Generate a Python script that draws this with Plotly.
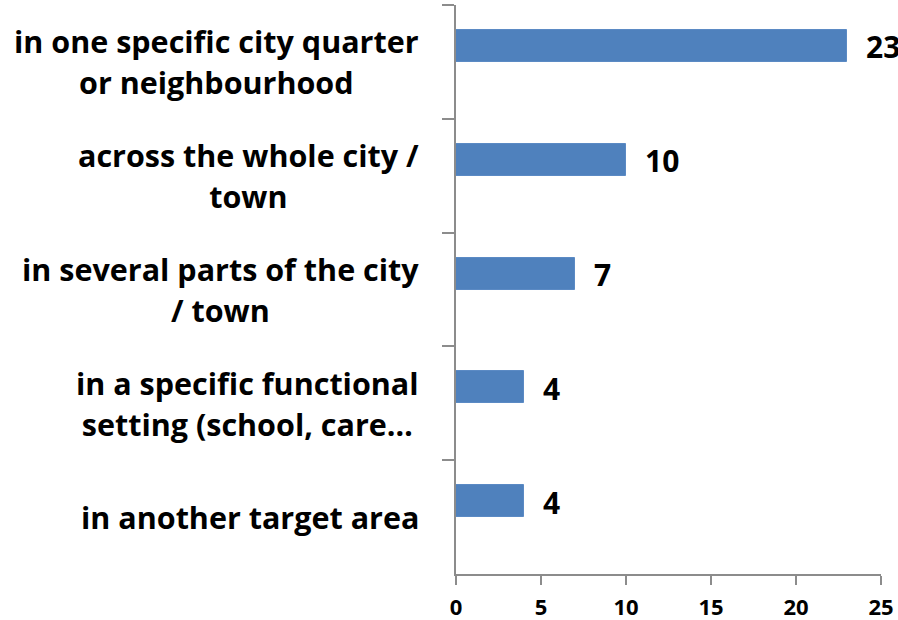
import plotly.graph_objects as go

categories = [
    "in one specific city quarter<br>or neighbourhood",
    "across the whole city /<br>town",
    "in several parts of the city<br>/ town",
    "in a specific functional<br>setting (school, care…",
    "in another target area",
]
values = [23, 10, 7, 4, 4]
x_ticks = [0, 5, 10, 15, 20, 25]

BAR = "#4F81BD"
AXIS = "#8C8C8C"
FONT = "Open Sans"

fig = go.Figure()
fig.add_trace(go.Bar(
    y=categories,
    x=values,
    orientation="h",
    width=0.28,
    offset=-0.28,
    marker=dict(color=BAR, line=dict(color="#5B8AC4", width=1)),
    hoverinfo="skip",
))

# value labels
for c, v in zip(categories, values):
    fig.add_annotation(
        x=v, y=c, xref="x", yref="y", text=f"<b>{v}</b>",
        showarrow=False, xanchor="left", yanchor="middle",
        xshift=17, yshift=15,
        font=dict(family=FONT, size=30, color="black"),
    )

# category labels (centered multi-line, wide line spacing)
for c in categories:
    fig.add_annotation(
        x=0, y=c, xref="paper", yref="y",
        text=f"<span style='font-size:30.5px'><b>{c}</b></span>",
        showarrow=False, xanchor="right", yanchor="middle", align="center",
        xshift=-35, yshift=0,
        font=dict(family=FONT, size=31.5, color="black"),
    )

fig.update_layout(
    width=898, height=620,
    margin=dict(l=456, r=17, t=5, b=46, autoexpand=False),
    plot_bgcolor="white", paper_bgcolor="white",
    showlegend=False,
    bargap=0,
)
fig.update_xaxes(
    range=[0, 25], tickvals=x_ticks, ticktext=[f"<b>{t}</b>" for t in x_ticks],
    showline=True, linecolor=AXIS, linewidth=1.5,
    ticks="outside", ticklen=9, tickcolor=AXIS, tickwidth=1.5,
    showgrid=False, zeroline=False, ticklabelstandoff=4, automargin=False,
    tickfont=dict(family=FONT, size=22, color="black"),
)
fig.update_yaxes(
    autorange="reversed",
    showline=True, linecolor=AXIS, linewidth=1.5,
    ticks="outside", ticklen=12, tickcolor=AXIS, tickwidth=1.5,
    tickson="boundaries", automargin=False,
    showticklabels=False, showgrid=False, zeroline=False,
)

fig.write_html("out.html", config={"displayModeBar": False},
               post_script="document.body.style.margin='0';")
